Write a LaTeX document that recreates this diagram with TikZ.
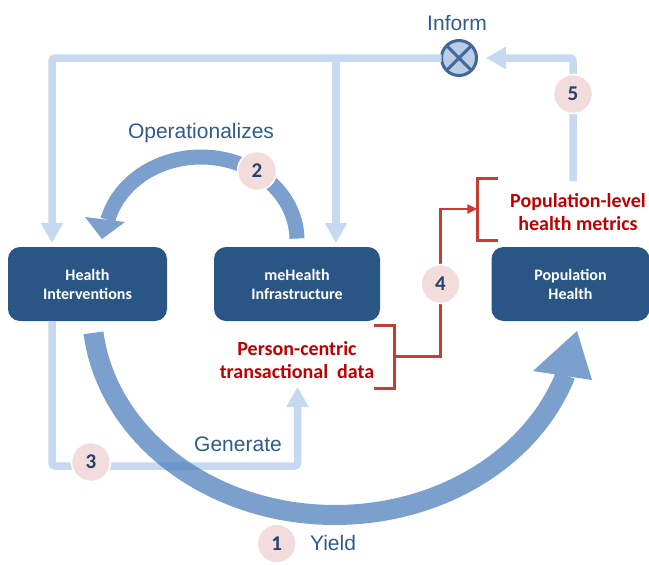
\documentclass[tikz,border=0pt]{standalone}
\usepackage{fontspec}
\setmainfont{Carlito}
\newfontfamily\labelfont{Liberation Sans}
\usetikzlibrary{arrows.meta}

\definecolor{boxblue}{HTML}{2A5686}
\definecolor{flowlight}{HTML}{C6D9F1}
\definecolor{arcblue}{HTML}{4F81BD}
\definecolor{labelblue}{HTML}{2F5B8F}
\definecolor{numblue}{HTML}{23406E}
\definecolor{badgepink}{HTML}{F2DDDC}
\definecolor{metricred}{HTML}{C00000}
\definecolor{bracketred}{HTML}{C63D31}
\definecolor{informfill}{HTML}{B9CDE5}
\definecolor{informline}{HTML}{41689A}

\tikzset{
  stage/.style={rectangle, rounded corners=12pt, fill=boxblue, text=white,
    font=\bfseries\fontsize{16}{19}\selectfont, align=center,
    minimum height=74pt, inner sep=0pt},
  flow/.style={draw=flowlight, line width=7.5pt, rounded corners=3pt,
    -{Triangle[width=21pt,length=20pt]}},
  badgenode/.style={circle, fill=badgepink, draw=white, line width=1.5pt,
    minimum size=39pt, inner sep=0pt, text=numblue,
    font=\bfseries\fontsize{21}{21}\selectfont},
  verb/.style={font=\labelfont\fontsize{21}{21}\selectfont, text=labelblue,
    inner sep=0pt},
  datanote/.style={text=metricred, font=\bfseries\fontsize{20}{23.5}\selectfont,
    align=center, inner sep=0pt},
  bracketline/.style={draw=bracketred, line width=2.5pt},
  bigarc/.style={draw=arcblue, line cap=butt},
}

\begin{document}
\begin{tikzpicture}[x=1pt,y=-1pt]
  \fill[white] (0,0) rectangle (649,565);
  \useasboundingbox (0,0) rectangle (649,565);

  % stages
  \node[stage, minimum width=159pt] (hi) at (87.5,284) {Health\\Interventions};
  \node[stage, minimum width=166pt] (me) at (297,284) {meHealth\\Infrastructure};
  \node[stage, minimum width=158pt] (ph) at (570.5,284) {Population\\Health};

  % inform junction
  \node[circle, draw=informline, fill=informfill, line width=3pt,
        minimum size=35pt, inner sep=0pt, outer sep=0pt] (inf) at (459,58) {};
  \draw[informline, line width=3pt] (inf.north west) -- (inf.south east)
                                    (inf.north east) -- (inf.south west);
  \node[verb, anchor=base] (informlbl) at (457,30.7) {Inform};

  % feedback lines
  \coordinate (topleft) at (52,58);
  \coordinate (topmid) at (336,58);
  \coordinate (hiIn) at (52,243);
  \coordinate (meIn) at (336,243);
  \coordinate (metricsTop) at (573,181);
  \coordinate (topright) at (573,58);
  \coordinate (infIn) at (486,58);
  \draw[flow] (inf.west) -- (topleft) -- (hiIn);
  \draw[flow] (topmid) -- (meIn);
  \draw[flow] (metricsTop) -- (topright) -- (infIn);

  % generate loop
  \coordinate (genCorner1) at (52,466);
  \coordinate (genCorner2) at (297.5,466);
  \coordinate (dataIn) at (297.5,387);
  \draw[flow] (hi.south -| genCorner1) -- (genCorner1) -- (genCorner2) -- (dataIn);

  % curved block arrows
  \begin{scope}[transparency group, opacity=0.75]
    \draw[bigarc, line width=20pt]
      plot[domain=173.6:18.5, samples=120, smooth, variable=\t]
      ({335+243*cos(\t)}, {310+205*sin(\t)});
    \fill[arcblue] (577,331) -- (533,371) -- (592,380) -- cycle;
    \draw[bigarc, line width=15pt]
      plot[domain=-1:-166, samples=90, smooth, variable=\t]
      ({201+96*cos(\t)}, {240+83*sin(\t)});
    \fill[arcblue] (102,239) -- (85,217) -- (125,222) -- cycle;
  \end{scope}

  % verbs
  \node[verb, anchor=base] (oplbl) at (201,138) {Operationalizes};
  \node[verb, anchor=base] (genlbl) at (238,451.5) {Generate};
  \node[verb, anchor=base] (yieldlbl) at (333,550) {Yield};

  % data notes and brackets
  \node[datanote] (pcdata) at (297,360) {Person-centric\\transactional\ \ data};
  \node[datanote] (popmetrics) at (578,212) {Population-level\\health metrics};
  \coordinate (b1a) at (374,325.7);
  \coordinate (b1b) at (394.3,325.7);
  \coordinate (b1c) at (394.3,388.3);
  \coordinate (b1d) at (374,388.3);
  \coordinate (b1m) at (394.3,356.7);
  \coordinate (riseLow) at (440.5,356.7);
  \coordinate (riseHigh) at (440.5,209);
  \coordinate (b2m) at (477.3,209);
  \coordinate (b2a) at (498,178.3);
  \coordinate (b2b) at (477.3,178.3);
  \coordinate (b2c) at (477.3,240.7);
  \coordinate (b2d) at (498,240.7);
  \draw[bracketline] (b1a) -- (b1b) -- (b1c) -- (b1d);
  \draw[bracketline] (b2a) -- (b2b) -- (b2c) -- (b2d);
  \draw[bracketline, -{Triangle[width=9pt,length=10pt]}]
    (b1m) -- (riseLow) -- (riseHigh) -- (b2m);

  % step badges
  \node[badgenode] (s1) at (276.7,543.5) {1};
  \node[badgenode] (s2) at (257,171) {2};
  \node[badgenode] (s3) at (91,462) {3};
  \node[badgenode] (s4) at (440.5,284) {4};
  \node[badgenode] (s5) at (573,94) {5};
\end{tikzpicture}
\end{document}
